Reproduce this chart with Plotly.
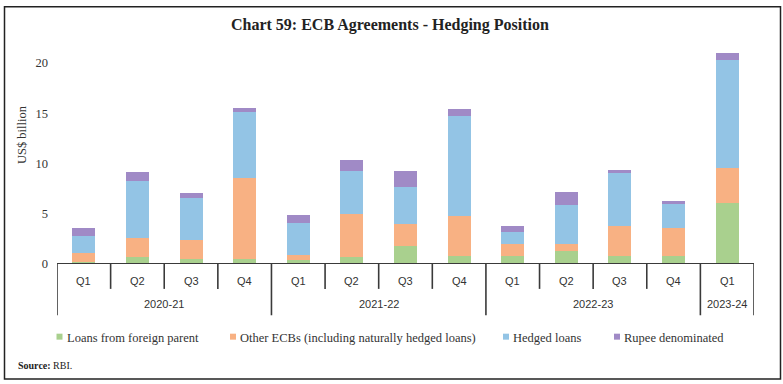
import plotly.graph_objects as go

quarters = ["Q1", "Q2", "Q3", "Q4", "Q1", "Q2", "Q3", "Q4", "Q1", "Q2", "Q3", "Q4", "Q1"]
years = ["2020-21", "2021-22", "2022-23", "2023-24"]
year_sizes = [4, 4, 4, 1]

loans_parent = [0.2, 0.67, 0.45, 0.45, 0.38, 0.67, 1.76, 0.84, 0.84, 1.34, 0.77, 0.84, 6.09]
other_ecbs = [0.85, 1.92, 1.91, 8.15, 0.49, 4.26, 2.18, 3.96, 1.16, 0.66, 2.97, 2.74, 3.46]
hedged = [1.7, 5.68, 4.25, 6.5, 3.24, 4.33, 3.73, 9.93, 1.15, 3.89, 5.35, 2.44, 10.8]
rupee = [0.8, 0.89, 0.47, 0.42, 0.79, 1.09, 1.59, 0.67, 0.59, 1.26, 0.27, 0.27, 0.62]

series_names = ["Loans from foreign parent", "Other ECBs (including naturally hedged loans)",
                "Hedged loans", "Rupee denominated"]
series_values = [loans_parent, other_ecbs, hedged, rupee]
series_colors = ["#A9D08E", "#F8B183", "#93C4E5", "#A08AC6"]

W, H = 783, 384
L, R, T, B = 57, 29, 42.5, 119.5
PW, PH = W - L - R, H - T - B

def px_x(p):
    return (p - L) / PW

def px_y(p):
    return (H - B - p) / PH

x = list(range(len(quarters)))
fig = go.Figure()
for name, vals, color in zip(series_names, series_values, series_colors):
    fig.add_trace(go.Bar(x=x, y=vals, name=name, marker_color=color,
                         marker_line_width=0, width=0.43, showlegend=False))

shapes = []
annotations = []
line_col = "#3a3a3a"
shapes.append(dict(type="line", xref="x", yref="y", x0=-0.5, x1=len(x) - 0.5, y0=0, y1=0,
                   line=dict(color=line_col, width=2)))
year_bounds = [-0.5]
for s in year_sizes:
    year_bounds.append(year_bounds[-1] + s)
for i in range(len(x) + 1):
    xb = i - 0.5
    ybot = px_y(316) if xb in year_bounds else px_y(289.5)
    shapes.append(dict(type="line", xref="x", yref="paper", x0=xb, x1=xb, y0=0, y1=ybot,
                       line=dict(color=line_col, width=1.6)))
shapes.append(dict(type="rect", xref="paper", yref="paper", x0=px_x(4.5), x1=px_x(780.5),
                   y0=px_y(380), y1=px_y(6), line=dict(color="#222222", width=1.5)))

# legend (squares + labels)
legend_x = [56.5, 230, 503, 614]
for lx, name, color in zip(legend_x, series_names, series_colors):
    shapes.append(dict(type="rect", xref="paper", yref="paper", x0=px_x(lx), x1=px_x(lx + 6),
                       y0=px_y(340.5), y1=px_y(334.5), fillcolor=color, line=dict(width=0)))
    annotations.append(dict(x=px_x(lx + 8), y=px_y(339), xref="paper", yref="paper", text=name,
                            showarrow=False, xanchor="left", yanchor="middle",
                            font=dict(family="Liberation Serif", size=12.5, color="#333333")))

for i, q in enumerate(quarters):
    annotations.append(dict(x=i, y=px_y(282), xref="x", yref="paper", text=q, showarrow=False,
                            font=dict(family="Liberation Sans", size=11, color="#333333"),
                            xanchor="center", yanchor="middle"))
for j, yname in enumerate(years):
    cx = (year_bounds[j] + year_bounds[j + 1]) / 2
    annotations.append(dict(x=cx, y=px_y(305), xref="x", yref="paper", text=yname, showarrow=False,
                            font=dict(family="Liberation Sans", size=11, color="#333333"),
                            xanchor="center", yanchor="middle"))
annotations.append(dict(x=px_x(22), y=px_y(135), xref="paper", yref="paper", text="US$ billion",
                        textangle=-90, showarrow=False,
                        font=dict(family="Liberation Serif", size=12.5, color="#333333"),
                        xanchor="center", yanchor="middle"))
annotations.append(dict(x=px_x(16), y=px_y(366), xref="paper", yref="paper",
                        text="<b>Source:</b> RBI.", showarrow=False,
                        font=dict(family="Liberation Serif", size=10, color="#222222"),
                        xanchor="left", yanchor="middle"))

fig.update_layout(
    width=W, height=H,
    margin=dict(l=L, r=R, t=T, b=B, autoexpand=False),
    paper_bgcolor="white", plot_bgcolor="white",
    barmode="stack",
    showlegend=False,
    title=dict(text="<b>Chart 59: ECB Agreements - Hedging Position</b>", x=0.498, xref="container",
               y=1 - 24 / H, yref="container", xanchor="center", yanchor="middle",
               font=dict(family="Liberation Serif", size=16, color="#222222")),
    xaxis=dict(range=[-0.5, len(x) - 0.5], showticklabels=False, showgrid=False,
               zeroline=False, showline=False, ticks=""),
    yaxis=dict(range=[0, 22], tickvals=[0, 5, 10, 15, 20], showgrid=False, zeroline=False,
               showline=False, ticks="", ticklabelstandoff=8,
               tickfont=dict(family="Liberation Serif", size=12.5, color="#333333")),
    shapes=shapes, annotations=annotations,
)

fig.write_html("out.html", config={"displayModeBar": False},
               post_script="document.body.style.margin='0';")
